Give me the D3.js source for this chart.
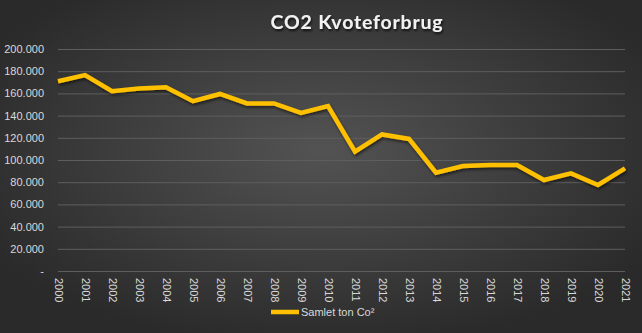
<!DOCTYPE html>
<html><head><meta charset="utf-8">
<script src="https://cdn.jsdelivr.net/npm/d3@7"></script>
<style>html,body{margin:0;padding:0;background:#2b2b2b;}svg{display:block;}</style>
</head><body>
<script>
const years = ["2000","2001","2002","2003","2004","2005","2006","2007","2008","2009","2010","2011","2012","2013","2014","2015","2016","2017","2018","2019","2020","2021"];
const values = [171000,176500,162000,164500,165500,153000,159500,151000,151000,142500,148500,107500,123000,119000,88500,94500,95500,95500,82000,88000,77500,92500];
const yTicks = [0,20000,40000,60000,80000,100000,120000,140000,160000,180000,200000];
const seriesName = "Samlet ton Co²";
const title = "CO2 Kvoteforbrug";

const W = 642, H = 333;
const m = {left:58, right:17, top:49, bottom:62};
const svg = d3.select("body").append("svg").attr("width",W).attr("height",H);
const defs = svg.append("defs");
const rg = defs.append("radialGradient").attr("id","bg").attr("cx","50%").attr("cy","45%").attr("r","60%");
rg.append("stop").attr("offset","0%").attr("stop-color","#535353");
rg.append("stop").attr("offset","100%").attr("stop-color","#2a2a2a");
const f = defs.append("filter").attr("id","sh").attr("x","-10%").attr("y","-10%").attr("width","120%").attr("height","130%");
f.append("feDropShadow").attr("dx",1).attr("dy",2).attr("stdDeviation",1.5).attr("flood-color","#000").attr("flood-opacity",0.55);
const ft = defs.append("filter").attr("id","tsh").attr("x","-10%").attr("y","-20%").attr("width","120%").attr("height","160%");
ft.append("feDropShadow").attr("dx",1).attr("dy",2).attr("stdDeviation",1.2).attr("flood-color","#000").attr("flood-opacity",0.7);

svg.append("rect").attr("width",W).attr("height",H).attr("fill","url(#bg)");

const x = d3.scalePoint().domain(years).range([m.left, W-m.right]);
const y = d3.scaleLinear().domain([0,200000]).range([H-m.bottom, m.top]);
const fmt = v => v===0 ? "-" : d3.format(",")(v).replace(/,/g,".");
const font = "'Liberation Sans',Arial,sans-serif";

// grid
const gy = svg.append("g").attr("transform",`translate(${m.left},0)`)
  .call(d3.axisLeft(y).tickValues(yTicks).tickSize(-(W-m.right-m.left)).tickFormat(fmt).tickPadding(14));
gy.select(".domain").remove();
gy.selectAll(".tick line").attr("stroke","#5e5e5e").attr("stroke-width",1);
gy.selectAll(".tick text").attr("fill","#d9d9d9").style("font-family",font).style("font-size","11px");

// x axis
const gx = svg.append("g").attr("transform",`translate(0,${H-m.bottom})`)
  .call(d3.axisBottom(x).tickSize(0).tickPadding(0));
gx.select(".domain").remove();
gx.selectAll(".tick text").attr("fill","#d9d9d9").style("font-family",font).style("font-size","11px")
  .attr("text-anchor","start").attr("transform","translate(-4,7) rotate(90)").attr("dy","0").attr("y",0).attr("x",0);

// line
svg.append("path").datum(values)
  .attr("d", d3.line().x((d,i)=>x(years[i])).y(d=>y(d)))
  .attr("fill","none").attr("stroke","#FFC000").attr("stroke-width",4.5)
  .attr("stroke-linejoin","miter").attr("filter","url(#sh)");

// title
svg.append("text").attr("x",357).attr("y",29).attr("text-anchor","middle")
  .attr("fill","#f2f2f2").style("font-family","Lato,'Open Sans',sans-serif").style("font-weight","bold")
  .style("font-size","19.5px").style("letter-spacing","0.8px").attr("filter","url(#tsh)").text(title);

// legend
svg.append("line").attr("x1",271).attr("x2",299).attr("y1",312).attr("y2",312)
  .attr("stroke","#FFC000").attr("stroke-width",4.5);
svg.append("text").attr("x",301).attr("y",316).attr("fill","#d9d9d9")
  .style("font-family",font).style("font-size","11px").text(seriesName);
</script>
</body></html>
